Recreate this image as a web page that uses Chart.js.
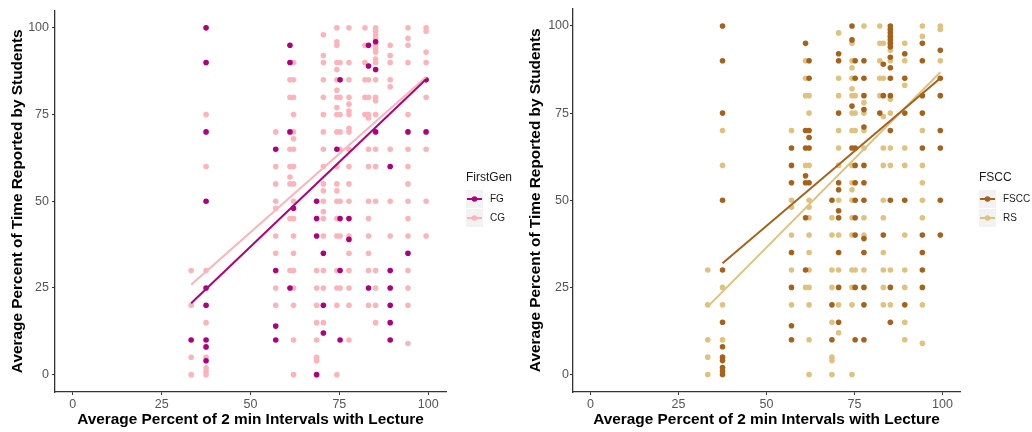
<!DOCTYPE html>
<html>
<head>
<meta charset="utf-8">
<script src="https://cdn.jsdelivr.net/npm/chart.js@4.4.1/dist/chart.umd.min.js"></script>
<style>
  body { margin: 0; background: #fff; }
  .panel { position: absolute; top: 0; }
</style>
</head>
<body>
<div class="panel" style="left:0"><canvas id="leftChart" width="520" height="432"></canvas></div>
<div class="panel" style="left:520px"><canvas id="rightChart" width="512" height="432"></canvas></div>
<script>
// x columns (average percent of 2 min intervals with lecture)
const COLS = [33.3, 37.5, 57.1, 61.1, 62.1, 68.6, 70.5, 74.3, 75.2, 77.7, 82.2, 83.2, 85.2, 89.3, 94.3, 99.4];
const TICKS = [0, 25, 50, 75, 100];

// y values per column, one list per COLS entry
const FG_Y = [
  [10], [100, 90, 70, 50, 25, 20, 10, 8, 4], [65, 30, 14, 10], [95, 90, 70, 25], [48],
  [50, 45, 40, 0], [35, 20, 12], [65], [85, 45, 30, 10], [45, 39], [],
  [95, 89, 25], [96, 88, 70], [60, 30, 25, 20, 15, 10], [70, 35], [85, 70]
];
const CG_Y = [
  [30, 20, 5, 0], [75, 60, 30, 15, 5, 2, 1, 0], [70, 60, 55, 50, 48, 40, 35, 25, 20],
  [85, 80, 65, 60, 57, 55, 45, 30],
  [90, 85, 80, 75, 70, 68, 65, 60, 55, 50, 45, 40, 35, 30, 25, 20, 10, 0],
  [30, 25, 20, 15, 10, 5, 4],
  [98, 92, 90, 85, 80, 75, 70, 65, 60, 55, 53, 50, 47, 45, 40, 30, 25, 15],
  [100, 96, 95, 90, 88, 85, 82, 80, 77, 75, 70, 60, 55, 53, 50, 45, 40, 30, 25, 20, 0],
  [90, 80, 75, 70, 65, 50, 40, 25],
  [100, 90, 85, 80, 78, 76, 75, 71, 70, 65, 60, 55, 50, 40, 35, 30, 25, 20, 10],
  [100, 95, 90, 85, 80, 75],
  [85, 80, 75, 74, 65, 60, 50, 45, 40, 35, 30, 20],
  [100, 99, 98, 97, 95, 94, 93, 91, 90, 85, 80, 79, 75, 65, 60, 50, 30, 25, 20, 15],
  [95, 92, 90, 85, 83, 65, 50, 40],
  [100, 97, 95, 90, 75, 65, 60, 55, 50, 45, 40, 30, 25, 20, 9],
  [100, 99, 93, 90, 80, 65, 50, 40]
];
const FSCC_Y = [
  [], [100, 90, 75, 50, 30, 15, 8, 5, 4, 2, 1, 0], [65, 60, 55, 35, 25, 14, 10],
  [95, 70, 65, 57, 55, 45, 30], [90, 85, 70, 68, 65, 55], [50, 20, 10],
  [92, 90, 75, 55, 53, 47, 45, 35, 25, 15], [100, 96, 77, 65],
  [90, 85, 65, 60, 55, 50, 45, 40, 25, 10],
  [90, 85, 80, 76, 71, 60, 55, 50, 39, 35, 25, 20, 10], [75], [89, 80, 40],
  [100, 99, 98, 97, 96, 95, 94, 91, 88, 85, 80, 70, 50, 25, 15],
  [92, 85, 75, 50, 20], [95, 90, 80, 75, 65, 40, 35, 30, 25], [93, 85, 80, 70, 65, 50, 40]
];
const RS_Y = [
  [30, 20, 10, 5, 0], [70, 60, 25, 20, 10], [70, 50, 48, 40, 30, 20], [90, 85, 80, 60, 25],
  [80, 75, 60, 50, 48, 45, 40, 35, 30, 25, 20, 10, 0], [45, 40, 30, 25, 15, 5, 4, 0],
  [98, 85, 80, 70, 65, 60, 50, 40, 30, 20, 12],
  [95, 90, 88, 85, 82, 80, 75, 70, 60, 55, 53, 50, 45, 40, 30, 25, 20, 0],
  [80, 75, 70, 30], [100, 78, 75, 70, 65, 45, 40, 30], [100, 95, 90, 85, 80],
  [95, 85, 74, 65, 60, 50, 45, 35, 30, 25, 20], [93, 90, 79, 75, 65, 60, 30, 20],
  [95, 90, 83, 65, 60, 40, 30, 25, 15, 10], [100, 97, 70, 60, 55, 50, 45, 20, 9], [100, 99, 90]
];

// fitted lines: [x, y] at both ends
const FG_FIT = [[33.3, 20.6], [99.4, 85.2]];
const CG_FIT = [[33.3, 25.9], [99.4, 85.8]];
const FSCC_FIT = [[37.5, 31.9], [99.4, 85.0]];
const RS_FIT = [[33.3, 19.5], [99.4, 86.7]];

const FONT = '"Liberation Sans", Arial, sans-serif';
const X_TITLE = 'Average Percent of 2 min Intervals with Lecture';
const Y_TITLE = 'Average Percent of Time Reported by Students';

function toPoints(cols) {
  const pts = [];
  cols.forEach((ys, i) => ys.forEach(y => pts.push({ x: COLS[i], y: y })));
  return pts;
}

function fitLine(fit) {
  return fit.map(p => ({ x: p[0], y: p[1] }));
}

// ggplot-like legend with grey key boxes
const keyLegend = {
  id: 'keyLegend',
  afterDraw(chart, args, opts) {
    const ctx = chart.ctx;
    ctx.save();
    ctx.textBaseline = 'middle';
    ctx.fillStyle = '#1a1a1a';
    ctx.font = '12px ' + FONT;
    ctx.fillText(opts.title, opts.x, opts.y);
    opts.items.forEach((it, i) => {
      const ky = opts.y + 12 + i * 19;
      ctx.fillStyle = '#f2f2f2';
      ctx.fillRect(opts.x, ky, 17, 18);
      ctx.strokeStyle = it.color;
      ctx.lineWidth = 2;
      ctx.beginPath();
      ctx.moveTo(opts.x + 1, ky + 9);
      ctx.lineTo(opts.x + 16, ky + 9);
      ctx.stroke();
      ctx.fillStyle = it.color;
      ctx.beginPath();
      ctx.arc(opts.x + 8.5, ky + 9, 2.8, 0, Math.PI * 2);
      ctx.fill();
      ctx.fillStyle = '#1a1a1a';
      ctx.font = '10px ' + FONT;
      ctx.fillText(it.label, opts.x + 24, ky + 9);
    });
    ctx.restore();
  }
};

function makeChart(id, cfg) {
  const axisCommon = {
    type: 'linear',
    min: -5,
    max: 105,
    afterBuildTicks: s => { s.ticks = TICKS.map(v => ({ value: v })); },
    grid: { drawOnChartArea: false, drawTicks: true, tickLength: 3, tickColor: '#333', tickWidth: 1 },
    border: { display: true, color: '#333', width: 1.3 }
  };
  return new Chart(document.getElementById(id), {
    type: 'scatter',
    data: {
      datasets: [
        { label: cfg.names[0] + ' fit', data: fitLine(cfg.fits[0]), showLine: true, borderColor: cfg.colors[0],
          borderWidth: 2, pointRadius: 0, order: 0 },
        { label: cfg.names[1] + ' fit', data: fitLine(cfg.fits[1]), showLine: true, borderColor: cfg.colors[1],
          borderWidth: 2, pointRadius: 0, order: 1 },
        { label: cfg.names[0], data: toPoints(cfg.series[0]), backgroundColor: cfg.colors[0],
          borderWidth: 0, pointRadius: 2.8, order: 2 },
        { label: cfg.names[1], data: toPoints(cfg.series[1]), backgroundColor: cfg.colors[1],
          borderWidth: 0, pointRadius: 2.8, order: 3 }
      ]
    },
    options: {
      responsive: false,
      animation: false,
      events: [],
      layout: { padding: { top: 7, right: cfg.rightPad, left: 0, bottom: 0 } },
      plugins: {
        legend: { display: false },
        tooltip: { enabled: false },
        keyLegend: { title: cfg.legendTitle, x: cfg.legendX, y: 178,
          items: [{ label: cfg.names[0], color: cfg.colors[0] }, { label: cfg.names[1], color: cfg.colors[1] }] }
      },
      scales: {
        x: Object.assign({}, axisCommon, {
          ticks: { color: '#555', font: { size: 12.5, family: FONT }, padding: 2, maxRotation: 0 },
          title: { display: true, text: X_TITLE, color: '#000', font: { size: 15.4, weight: 'bold', family: FONT },
            padding: { top: 0, bottom: 3 } },
          afterFit: s => { s.height = 40; }
        }),
        y: Object.assign({}, axisCommon, {
          ticks: { color: '#555', font: { size: 12.5, family: FONT }, padding: cfg.yTickPad },
          title: { display: true, text: Y_TITLE, color: '#000', font: { size: 15.4, weight: 'bold', family: FONT },
            padding: { top: cfg.yTitlePad, bottom: 0 } },
          afterFit: s => { s.width = cfg.yWidth; }
        })
      }
    },
    plugins: [keyLegend]
  });
}

makeChart('leftChart', {
  names: ['FG', 'CG'],
  colors: ['#ae017e', '#fbb4b9'],
  series: [FG_Y, CG_Y],
  fits: [FG_FIT, CG_FIT],
  legendTitle: 'FirstGen',
  legendX: 466,
  rightPad: 74,
  yWidth: 55,
  yTickPad: 3,
  yTitlePad: 9
});

makeChart('rightChart', {
  names: ['FSCC', 'RS'],
  colors: ['#a6611a', '#dfc27d'],
  series: [FSCC_Y, RS_Y],
  fits: [FSCC_FIT, RS_FIT],
  legendTitle: 'FSCC',
  legendX: 459,
  rightPad: 72,
  yWidth: 53,
  yTickPad: 1,
  yTitlePad: 7
});
</script>
</body>
</html>
